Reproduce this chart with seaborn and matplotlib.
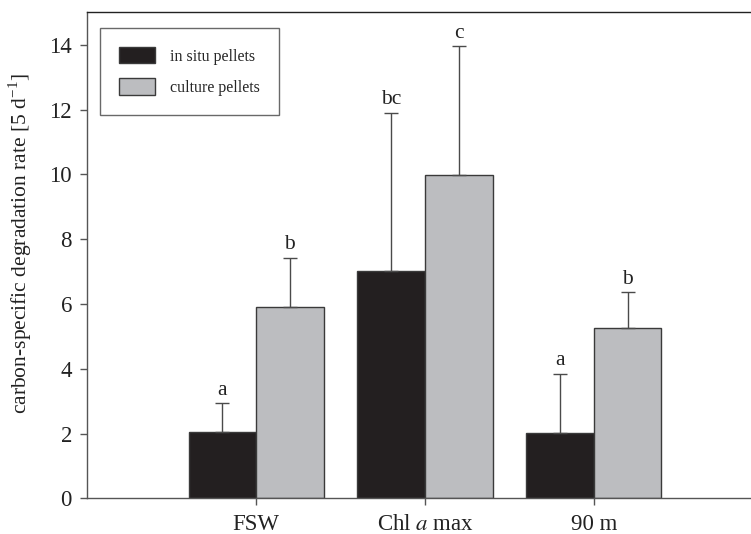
import matplotlib
matplotlib.use("Agg")
import matplotlib.pyplot as plt
import seaborn as sns
import pandas as pd
import numpy as np

# ---- data ----
categories = ["FSW", "Chl $a$ max", "90 m"]
series_names = ["in situ pellets", "culture pellets"]
in_situ = [2.05, 7.03, 2.01]
in_situ_err = [0.89, 4.87, 1.84]
culture = [5.92, 9.99, 5.26]
culture_err = [1.51, 3.96, 1.11]
letters_in_situ = ["a", "bc", "a"]
letters_culture = ["b", "c", "b"]
yticks = [0, 2, 4, 6, 8, 10, 12, 14]

sns.set_theme(style="white")
plt.rcParams["font.family"] = ["Liberation Serif", "DejaVu Serif"]
plt.rcParams["mathtext.fontset"] = "stix"

df = pd.DataFrame({
    "site": categories * 2,
    "type": [series_names[0]] * 3 + [series_names[1]] * 3,
    "rate": in_situ + culture,
})

fig = plt.figure(figsize=(7.51, 5.34), dpi=100)
ax = fig.add_axes([0.1162, 0.0665, 0.8838, 0.9105])

palette = {series_names[0]: "#231f20", series_names[1]: "#bcbdc0"}
sns.barplot(data=df, x="site", y="rate", hue="type", order=categories,
            hue_order=series_names, palette=palette, width=0.8,
            edgecolor="#3a3a3a", linewidth=1.0, saturation=1, errorbar=None, ax=ax)

errs = [in_situ_err, culture_err]
letters = [letters_in_situ, letters_culture]
for cont, err, lab in zip(ax.containers, errs, letters):
    xs = [p.get_x() + p.get_width() / 2 for p in cont.patches]
    hs = [p.get_height() for p in cont.patches]
    ax.errorbar(xs, hs, yerr=[np.zeros(len(err)), err], fmt="none",
                ecolor="#4a4a4a", elinewidth=1.0, capsize=5, capthick=1.0, zorder=1)
    for x, h, e, t in zip(xs, hs, err, lab):
        ax.annotate(t, (x, h + e), xytext=(0, 6), textcoords="offset points",
                    ha="center", va="baseline", fontsize=15.5, color="#222222")

ax.set_ylim(0, 15)
ax.set_xlim(-1.0, 2.93)
ax.set_yticks(yticks)
ax.set_yticklabels([str(v) for v in yticks], fontsize=16.5)
ax.set_xticks(range(len(categories)))
ax.set_xticklabels(categories, fontsize=16.5)
ax.tick_params(axis="both", direction="out", length=5, width=1, color="#555555",
               pad=6, left=True, bottom=True, labelcolor="#222222")
ax.set_xlabel("")
ax.set_ylabel("carbon-specific degradation rate [5 d$^{\\mathregular{-1}}$]",
              fontsize=15.5, color="#222222")
ax.yaxis.set_label_coords(-0.080, 0.525)

for s in ["left", "top", "bottom"]:
    ax.spines[s].set_visible(True)
    ax.spines[s].set_linewidth(1.0)
ax.spines["left"].set_color("#555555")
ax.spines["bottom"].set_color("#555555")
ax.spines["top"].set_color("#222222")
ax.spines["right"].set_visible(False)

leg = ax.legend(loc="upper left", bbox_to_anchor=(0.019, 0.968), fontsize=11.5,
                frameon=True, fancybox=False, handlelength=2.25, handleheight=1.2,
                labelspacing=0.87, handletextpad=0.94, borderpad=1.2, borderaxespad=0,
                title=None)
leg.get_frame().set_edgecolor("#444444")
leg.get_frame().set_linewidth(1.0)
for h in leg.legend_handles:
    h.set_edgecolor("#3a3a3a")
    h.set_linewidth(1.0)

fig.savefig("out.png", dpi=100)
